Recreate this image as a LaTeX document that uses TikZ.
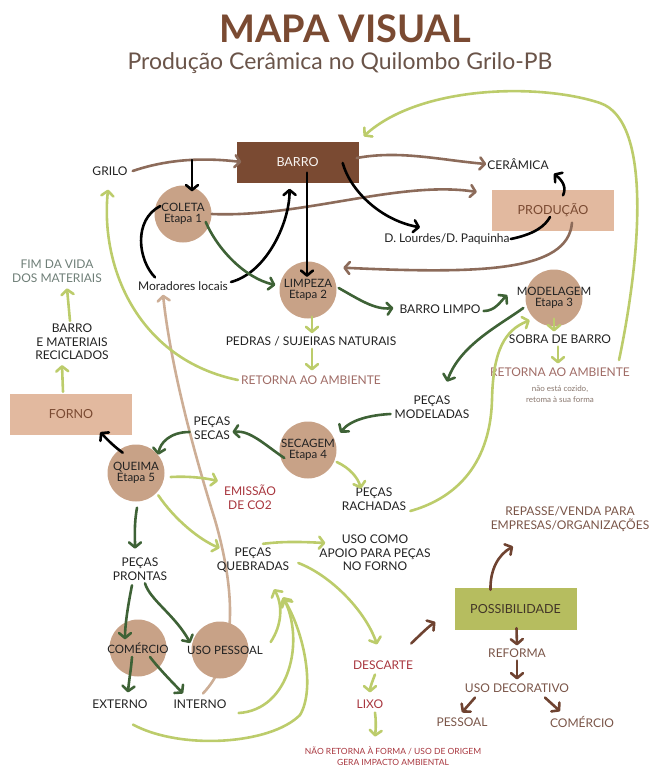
\documentclass[tikz,border=0pt]{standalone}
\usepackage{fontspec}
\setmainfont{Lato}
\usetikzlibrary{arrows.meta,calc,backgrounds}

\definecolor{barrobrown}{HTML}{7A4A32}
\definecolor{claytan}{HTML}{C8A287}
\definecolor{lighttan}{HTML}{E2B99F}
\definecolor{olivebox}{HTML}{B6BD5F}
\definecolor{leaf}{HTML}{BCCC6B}
\definecolor{forest}{HTML}{3E6236}
\definecolor{mud}{HTML}{8C6B5A}
\definecolor{rust}{HTML}{6F4331}
\definecolor{wine}{HTML}{A8363E}
\definecolor{dusty}{HTML}{A06C66}
\definecolor{sage}{HTML}{6E7E77}
\definecolor{cocoa}{HTML}{7A5548}
\definecolor{ink}{HTML}{222222}
\definecolor{subbrown}{HTML}{6A5449}
\definecolor{paletan}{HTML}{CDAE96}

\begin{document}
\begin{tikzpicture}[x=1pt,y=-1pt,
    lbl/.style={align=center,inner sep=1pt,text=ink,font=\fontsize{12}{13.5}\selectfont},
    stage/.style={circle,fill=claytan,minimum size=57pt,inner sep=0pt},
    stagetxt/.style={align=center,inner sep=0pt,text=ink,font=\fontsize{11.5}{10.5}\selectfont},
    block/.style={minimum width=122pt,minimum height=41pt,inner sep=0pt,font=\fontsize{12.5}{13.5}\selectfont},
    flow/.style={line width=2.6pt,line cap=round,-{Straight Barb[length=5pt,width=12pt,round]}},
    link/.style={line width=2.6pt,line cap=round}]
    \useasboundingbox (0,0) rectangle (650,769);
    % title
    \node[font=\fontsize{38}{40}\selectfont\bfseries,text=barrobrown,inner sep=0pt] (title) at (345,29) {MAPA VISUAL};
    \node[font=\fontsize{23}{26}\selectfont,text=subbrown,inner sep=0pt] (subtitle) at (340,63) {Produção Cerâmica no Quilombo Grilo-PB};
    % boxes
    \node[block,fill=barrobrown,text=white!90!claytan] (barro) at (297.5,162) {BARRO};
    \node[block,fill=lighttan,text=barrobrown] (producao) at (553,210) {PRODUÇÃO};
    \node[block,fill=lighttan,text=barrobrown] (forno) at (71,414.5) {FORNO};
    \node[block,fill=olivebox,text=ink!80!brown,minimum height=42pt] (possib) at (515.5,609) {POSSIBILIDADE};
    % stages
    \node[stage,label={[stagetxt]center:{COLETA\\Etapa 1}}] (coleta) at (183,214) {};
    \node[stage,label={[stagetxt]center:{LIMPEZA\\Etapa 2}}] (limpeza) at (308,290) {};
    \node[stage,label={[stagetxt]center:{MODELAGEM\\Etapa 3}}] (modelagem) at (554,298) {};
    \node[stage,label={[stagetxt]center:{SECAGEM\\Etapa 4}}] (secagem) at (308,450) {};
    \node[stage,label={[stagetxt]center:{QUEIMA\\Etapa 5}}] (queima) at (136,473) {};
    \node[stage,label={[stagetxt]center:COMÉRCIO}] (comercio) at (138,648) {};
    \node[stage,label={[stagetxt,xshift=5pt]center:USO PESSOAL}] (usopessoal) at (220,650) {};
    % labels
    \node[lbl] (grilo) at (110,171) {GRILO};
    \node[lbl] (ceramica) at (518,164) {CERÂMICA};
    \node[lbl] (lourdes) at (447,239) {D. Lourdes/D. Paquinha};
    \node[lbl] (moradores) at (183,286) {Moradores locais};
    \node[lbl] (barrolimpo) at (440,309) {BARRO LIMPO};
    \node[lbl] (pedras) at (311,341) {PEDRAS / SUJEIRAS NATURAIS};
    \node[lbl] (sobra) at (560,339) {SOBRA DE BARRO};
    \node[lbl,text=dusty] (retornaL) at (311,380) {RETORNA AO AMBIENTE};
    \node[lbl,text=dusty] (retornaR) at (560,372) {RETORNA AO AMBIENTE};
    \node[lbl,text=subbrown!80,font=\fontsize{8}{10.5}\selectfont] (nota) at (560,394) {não está cozido,\\retoma à sua forma};
    \node[lbl,text=sage] (fimvida) at (57,271) {FIM DA VIDA\\DOS MATERIAIS};
    \node[lbl] (reciclados) at (72,342) {BARRO\\E MATERIAIS\\RECICLADOS};
    \node[lbl] (modeladas) at (432,407) {PEÇAS\\MODELADAS};
    \node[lbl] (secas) at (212,428) {PEÇAS\\SECAS};
    \node[lbl,text=wine] (emissao) at (250,497) {EMISSÃO\\DE CO2};
    \node[lbl] (rachadas) at (374,499) {PEÇAS\\RACHADAS};
    \node[lbl] (apoio) at (375,553) {USO COMO\\APOIO PARA PEÇAS\\NO FORNO};
    \node[lbl] (quebradas) at (253,560) {PEÇAS\\QUEBRADAS};
    \node[lbl] (prontas) at (140,569) {PEÇAS\\PRONTAS};
    \node[lbl,text=cocoa] (repasse) at (570,519) {REPASSE/VENDA PARA\\EMPRESAS/ORGANIZAÇÕES};
    \node[lbl] (externo) at (120,704) {EXTERNO};
    \node[lbl] (interno) at (200,704) {INTERNO};
    \node[lbl,text=wine] (descarte) at (383,665) {DESCARTE};
    \node[lbl,text=wine] (lixo) at (370,704) {LIXO};
    \node[lbl,text=wine,font=\fontsize{8.5}{10.5}\selectfont,inner sep=0pt] (naoretorna) at (393,756) {NÃO RETORNA À FORMA / USO DE ORIGEM\\GERA IMPACTO AMBIENTAL};
    \node[lbl,text=cocoa] (reforma) at (517,653) {REFORMA};
    \node[lbl,text=cocoa] (decorativo) at (517,688) {USO DECORATIVO};
    \node[lbl,text=cocoa] (pessoalD) at (462,722) {PESSOAL};
    \node[lbl,text=cocoa] (comercioD) at (582,722) {COMÉRCIO};
    % line behind uso pessoal
    \begin{scope}[on background layer]
        \draw[flow,paletan] ($(interno.north)+(3,-5)$) .. controls (235,660) and (238,600) .. (215,520)
            .. controls (190,440) and (170,360) .. ($(moradores.south)+(-20,3)$);
    \end{scope}
    % clay source
    \coordinate (fork) at (192,160);
    \draw[flow,mud] ($(grilo.east)+(4,0)$) .. controls (165,160) and (200,157) .. ($(barro.west)+(5,0)$);
    \draw[flow,black] (fork) -- ($(coleta.north)+(9,6)$);
    \draw[flow,mud] ($(barro.east)+(-2,-4)$) .. controls (400,150) and (440,160) .. (ceramica.west);
    \draw[flow,mud] (coleta.east) .. controls (300,218) and (400,180) .. ($(producao.west)+(-15,-18)$);
    \draw[flow,black] ($(barro.east)+(-16,1)$) .. controls (350,190) and (380,220) .. ($(lourdes.north)+(-27,-5)$);
    \draw[flow,black] ($(barro.south)+(9.5,-10)$) -- ($(limpeza.north)+(-1,15.5)$);
    \draw[link,black] (lourdes.east) .. controls (535,234) and (545,226) .. ($(producao.center)+(-3,7)$);
    \draw[flow,black] ($(producao.north)+(10,6)$) .. controls (567,187) and (562,180) .. ($(ceramica.south east)+(4,3)$);
    \draw[flow,mud] ($(producao.south)+(19,-8)$) .. controls (568,272) and (480,274) .. ($(limpeza.north east)+(15,-2)$);
    \draw[link,black] ($(moradores.north)+(-28,-3)$) .. controls (138,260) and (133,220) .. ($(coleta.west)+(6,-8)$);
    \draw[flow,black] ($(moradores.east)+(2,-4)$) .. controls (268,272) and (290,220) .. ($(barro.south)+(-8,6)$);
    % main chain
    \draw[flow,forest] ($(coleta.east)+(-6,8)$) .. controls (218,250) and (245,278) .. ($(limpeza.west)+(-4,-5)$);
    \draw[flow,forest] ($(limpeza.east)+(2,-2)$) .. controls (360,300) and (375,310) .. ($(barrolimpo.west)+(-5,-1)$);
    \draw[flow,forest] ($(barrolimpo.east)+(2,2)$) .. controls (495,311) and (500,302) .. ($(modelagem.west)+(-18,-3)$);
    \draw[flow,forest] ($(modelagem.west)+(-2,10)$) .. controls (500,325) and (460,345) .. ($(modeladas.north)+(15,-13)$);
    \draw[flow,forest] ($(modeladas.west)+(-3,7)$) .. controls (370,415) and (350,420) .. ($(secagem.north east)+(12,3)$);
    \draw[flow,forest] ($(secagem.west)+(5,8)$) .. controls (265,445) and (250,430) .. ($(secas.east)+(1,4)$);
    \draw[flow,forest] ($(secas.west)+(-3,4)$) .. controls (170,432) and (160,443) .. ($(queima.north east)+(2,2)$);
    \draw[flow,black] ($(queima.north west)+(7,0)$) .. controls (112,445) and (105,437) .. ($(forno.south east)+(-32,-3)$);
    \draw[flow,forest] ($(queima.south)+(1,6)$) .. controls (134,525) and (135,535) .. ($(prontas.north)+(-5,-8)$);
    \draw[flow,forest] ($(prontas.south)+(-8,4)$) .. controls (128,605) and (125,625) .. ($(comercio.north)+(-13,20)$);
    \draw[flow,forest] ($(prontas.south)+(5,2)$) .. controls (150,600) and (175,615) .. ($(usopessoal.west)+(-1,-7)$);
    \draw[flow,forest] ($(comercio.center)+(-6,9)$) .. controls (131,670) and (129,680) .. ($(externo.north)+(8,-6)$);
    \draw[flow,forest] ($(comercio.center)+(12,9)$) .. controls (160,670) and (175,685) .. ($(interno.north)+(-17,-5)$);
    % returns to the environment
    \draw[flow,leaf] ($(limpeza.south)+(4,-2)$) -- ($(pedras.north)+(1,-2)$);
    \draw[flow,leaf] ($(pedras.south)+(1,2)$) -- ($(retornaL.north)+(1,-4)$);
    \draw[flow,leaf] ($(modelagem.south)+(0,-8)$) -- ($(sobra.north)+(-6,-2)$);
    \draw[flow,leaf] ($(sobra.south)+(-2,2)$) -- ($(retornaR.north)+(-2,-3)$);
    \draw[flow,leaf] ($(retornaR.east)+(-12,-12)$) .. controls (640,260) and (653,121) .. (600,103)
        .. controls (540,83) and (420,85) .. ($(barro.north east)+(5,-5)$);
    \draw[flow,leaf] ($(retornaL.west)+(-2,0)$) .. controls (140,360) and (100,270) .. ($(grilo.south)+(-2,13)$);
    \draw[flow,leaf] ($(forno.north)+(-8,-2)$) -- ($(reciclados.south)+(-10,4)$);
    \draw[flow,leaf] ($(reciclados.north)+(-2,-2)$) -- ($(fimvida.south)+(10,5)$);
    \draw[flow,leaf] ($(secagem.east)+(0,12)$) .. controls (350,468) and (358,478) .. ($(rachadas.north)+(-13,2)$);
    \draw[flow,leaf] ($(rachadas.east)+(3,12)$) .. controls (450,500) and (490,470) .. (492,400)
        .. controls (493,350) and (505,330) .. ($(modelagem.south west)+(-4,2)$);
    \draw[flow,leaf] ($(queima.east)+(6,4)$) .. controls (190,476) and (205,478) .. ($(emissao.west)+(-5,-16)$);
    \draw[flow,leaf] ($(queima.south east)+(2,2)$) .. controls (175,520) and (200,540) .. ($(quebradas.west)+(4,-12)$);
    \draw[flow,leaf] ($(quebradas.north)+(10,-3)$) .. controls (285,541) and (305,542) .. ($(apoio.west)+(7,-10)$);
    \draw[flow,leaf] ($(quebradas.east)+(8,3)$) .. controls (330,575) and (365,610) .. ($(descarte.north)+(-6,-15)$);
    \draw[flow,leaf] ($(usopessoal.east)+(22,-8)$) .. controls (282,625) and (283,605) .. ($(quebradas.south)+(21,16)$);
    \draw[flow,leaf] ($(interno.east)+(11,9)$) .. controls (290,710) and (305,640) .. ($(quebradas.south)+(30,24)$);
    \draw[flow,leaf] ($(externo.south)+(13,15)$) .. controls (180,750) and (270,745) .. (300,715)
        .. controls (315,690) and (305,635) .. ($(quebradas.south)+(31,26)$);
    \draw[flow,leaf] ($(descarte.south)+(-8,4)$) .. controls (372,682) and (370,688) .. ($(lixo.north)+(0,-6)$);
    \draw[flow,leaf] ($(lixo.south)+(5,3)$) .. controls (376,720) and (376,727) .. ($(naoretorna.north)+(-18,-10)$);
    % second life
    \draw[flow,rust] ($(descarte.north east)+(-3,-16)$) .. controls (420,635) and (428,627) .. ($(possib.west)+(-19,13)$);
    \draw[flow,rust] ($(possib.north)+(-25,2)$) .. controls (490,570) and (498,555) .. ($(repasse.south)+(-57,14)$);
    \draw[flow,rust] ($(possib.south)+(1,-2)$) -- ($(reforma.north)+(0,-2)$);
    \draw[flow,rust] ($(reforma.south)+(0,2)$) -- ($(decorativo.north)+(0,-3)$);
    \draw[flow,rust] ($(decorativo.south)+(-42,4)$) -- ($(pessoalD.north)+(0,-4)$);
    \draw[flow,rust] ($(decorativo.south)+(28,4)$) -- ($(comercioD.north)+(-22,-4)$);
\end{tikzpicture}
\end{document}
